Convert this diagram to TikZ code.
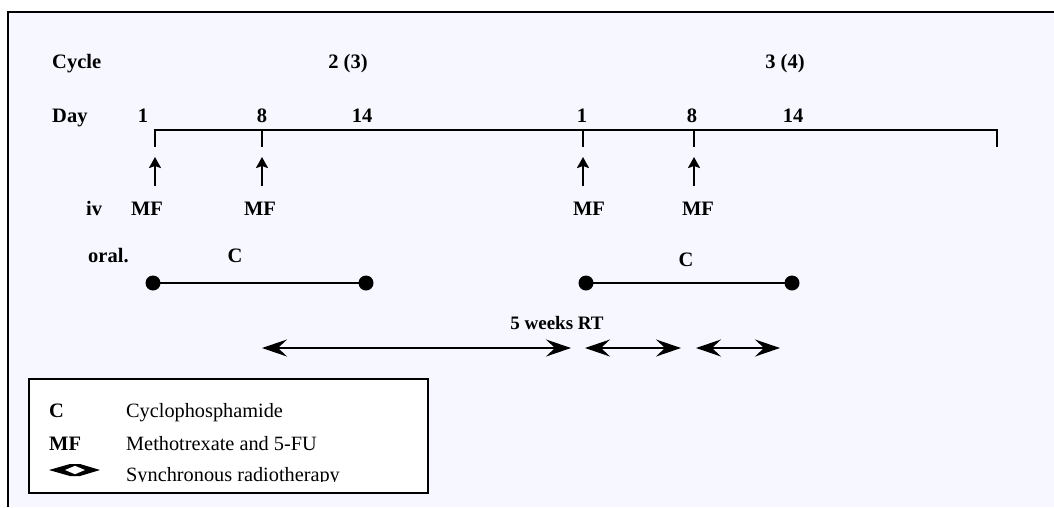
\documentclass[tikz,border=0pt]{standalone}
\usepackage{fontspec}
\setmainfont{Liberation Serif}
\usetikzlibrary{arrows.meta}
\definecolor{panel}{RGB}{246,247,255}
\tikzset{
  lbl/.style={inner sep=0pt, font=\fontsize{20.5}{24}\selectfont\bfseries},
  leg/.style={inner sep=0pt, font=\fontsize{20.3}{24}\selectfont},
  axis/.style={line width=2.6pt},
  tick/.style={line width=2.6pt},
  dose/.style={line width=2.2pt, -{Stealth[length=11pt,width=12pt,inset=2pt]}},
  oralbar/.style={line width=2.2pt},
  dot/.style={fill=black},
  rt/.style={line width=1.8pt, {Stealth[length=25pt,width=17pt,inset=9pt]}-{Stealth[length=25pt,width=17pt,inset=9pt]}},
}
\begin{document}
\begin{tikzpicture}[x=1pt,y=-1pt]
\useasboundingbox (0,0) rectangle (1054,507);
% panel and its frame
\fill[panel] (8,12) rectangle (1054,507);
\draw[line width=2.6pt] (8,507) -- (8,12) -- (1054,12);

% row headings
\node[lbl, anchor=base west] (cyc) at (52,68) {Cycle};
\node[lbl, anchor=base west] (day) at (52,122) {Day};
\node[lbl, anchor=base west] (iv) at (86,215) {iv};
\node[lbl, anchor=base west] (oral) at (88,262) {oral.};

% cycle numbers
\node[lbl, anchor=base] (c2) at (348,68) {2 (3)};
\node[lbl, anchor=base] (c3) at (785,68) {3 (4)};

% day numbers
\node[lbl, anchor=base] (d1a) at (143,122) {1};
\node[lbl, anchor=base] (d8a) at (262,122) {8};
\node[lbl, anchor=base] (d14a) at (362,122) {14};
\node[lbl, anchor=base] (d1b) at (582,122) {1};
\node[lbl, anchor=base] (d8b) at (692,122) {8};
\node[lbl, anchor=base] (d14b) at (793,122) {14};

% time axis with ticks
\coordinate (t0) at (155,130);
\coordinate (t1) at (262,130);
\coordinate (t2) at (583,130);
\coordinate (t3) at (694,130);
\coordinate (tend) at (997,130);
\coordinate (t0b) at (155,147);
\coordinate (t1b) at (262,147);
\coordinate (t2b) at (583,147);
\coordinate (t3b) at (694,147);
\coordinate (tendb) at (997,147);
\draw[axis] ([xshift=-1.3pt]t0) -- ([xshift=1.3pt]tend);
\draw[tick] (t0) -- (t0b);
\draw[tick] (t1) -- (t1b);
\draw[tick] (t2) -- (t2b);
\draw[tick] (t3) -- (t3b);
\draw[tick] (tend) -- (tendb);

% intravenous doses
\coordinate (a0) at (155,186);
\coordinate (a1) at (262,186);
\coordinate (a2) at (583,186);
\coordinate (a3) at (694,186);
\coordinate (h0) at (155,157);
\coordinate (h1) at (262,157);
\coordinate (h2) at (583,157);
\coordinate (h3) at (694,157);
\draw[dose] (a0) -- (h0);
\draw[dose] (a1) -- (h1);
\draw[dose] (a2) -- (h2);
\draw[dose] (a3) -- (h3);
\node[lbl, anchor=base] (mf0) at (147,215) {MF};
\node[lbl, anchor=base] (mf1) at (260,215) {MF};
\node[lbl, anchor=base] (mf2) at (589,215) {MF};
\node[lbl, anchor=base] (mf3) at (698,215) {MF};

% oral cyclophosphamide
\node[lbl, anchor=base] (ca) at (235,262) {C};
\node[lbl, anchor=base] (cb) at (686,266) {C};
\coordinate (oa0) at (153,283);
\coordinate (oa1) at (366,283);
\coordinate (ob0) at (586,283);
\coordinate (ob1) at (792,283);
\draw[oralbar] (oa0) -- (oa1);
\draw[oralbar] (ob0) -- (ob1);
\fill[dot] (oa0) circle (7.5);
\fill[dot] (oa1) circle (7.5);
\fill[dot] (ob0) circle (7.5);
\fill[dot] (ob1) circle (7.5);

% radiotherapy
\node[lbl, anchor=base, font=\fontsize{19}{22}\selectfont\bfseries] (rtlbl) at (557,329) {5 weeks RT};
\coordinate (r0) at (262,348);
\coordinate (r1) at (571,348);
\coordinate (r2) at (585,348);
\coordinate (r3) at (681,348);
\coordinate (r4) at (696,348);
\coordinate (r5) at (780,348);
\draw[rt] (r0) -- (r1);
\draw[rt] (r2) -- (r3);
\draw[rt] (r4) -- (r5);

% legend
\draw[line width=1.6pt, fill=white] (29,379) rectangle (428,493);
\begin{scope}
  \clip (29,379) rectangle (428,481);
  \node[lbl, anchor=base west] (kc) at (49,417) {C};
  \node[leg, anchor=base west] (vc) at (126,417) {Cyclophosphamide};
  \node[lbl, anchor=base west] (kmf) at (49,450) {MF};
  \node[leg, anchor=base west] (vmf) at (126,450) {Methotrexate and 5-FU};
  \node[leg, anchor=base west] (vrt) at (126,481) {Synchronous radiotherapy};
\end{scope}
% legend key for radiotherapy
\fill (49,470) -- (70,464) -- (80,464) -- (100,470) -- (80,476) -- (70,476) -- cycle;
\fill[white] (65,470) -- (75,465.8) -- (85,470) -- (75,474.2) -- cycle;
\end{tikzpicture}
\end{document}
